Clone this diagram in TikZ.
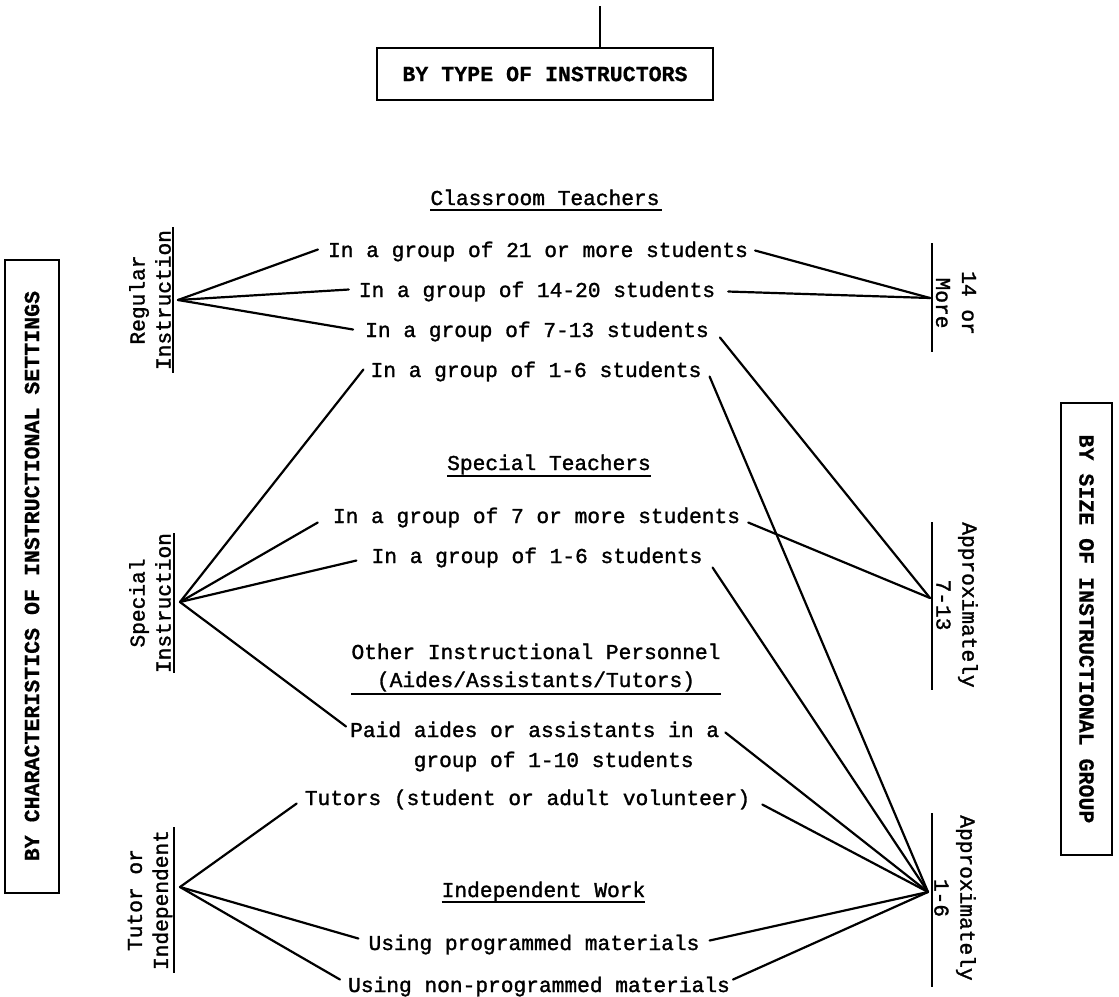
\documentclass[tikz,border=0pt]{standalone}
\usepackage{fontspec}
\newfontfamily\twfont{Liberation Mono}[FakeBold=1.4]
\newfontfamily\twbold{Liberation Mono Bold}[FakeBold=0.6]
\begin{document}
\begin{tikzpicture}[x=1pt,y=-1pt,
  every node/.style={font=\twfont\fontsize{21.2}{26}\selectfont, inner sep=0pt},
  lbl/.style={anchor=base},
  side/.style={align=center},
  boxlbl/.style={draw, line width=2pt, font=\twbold\fontsize{21.6}{26}\selectfont},
  conn/.style={line width=2.2pt, line cap=round},
  rule/.style={line width=2pt},
  uline/.style={line width=1.8pt}]
\useasboundingbox (0,0) rectangle (1119,996);

% frame titles
\node[boxlbl, minimum width=336pt, minimum height=52pt] (type) at (545,74) {BY TYPE OF INSTRUCTORS};
\coordinate (topend) at (600,6);
\draw[rule] (topend) -- (topend |- type.north);
\node[boxlbl, rotate=90, minimum width=633pt, minimum height=54pt] (settings) at (32,576) {BY CHARACTERISTICS OF INSTRUCTIONAL SETTINGS};
\node[boxlbl, rotate=-90, minimum width=452pt, minimum height=51pt] (size) at (1086.5,629) {BY SIZE OF INSTRUCTIONAL GROUP};

% instructor types and settings
\node[lbl] (ct) at (545,205) {Classroom Teachers};
\node[lbl] (r1) at (538,257) {In a group of 21 or more students};
\node[lbl] (r2) at (537,297) {In a group of 14-20 students};
\node[lbl] (r3) at (537,337) {In a group of 7-13 students};
\node[lbl] (r4) at (536,377) {In a group of 1-6 students};
\node[lbl] (st) at (549,470) {Special Teachers};
\node[lbl] (s1) at (536.5,523) {In a group of 7 or more students};
\node[lbl] (s2) at (537,563) {In a group of 1-6 students};
\node[lbl] (o1) at (536,659) {Other Instructional Personnel};
\node[lbl] (o2) at (536,687) {(Aides/Assistants/Tutors)};
\node[lbl, anchor=base west] (p1) at (350,737) {Paid aides or assistants in a};
\node[lbl, anchor=base west] (p2) at (413.5,767) {group of 1-10 students};
\node[lbl] (tu) at (527.5,805) {Tutors (student or adult volunteer)};
\node[lbl] (iw) at (543.5,897) {Independent Work};
\node[lbl] (pm) at (534,950) {Using programmed materials};
\node[lbl] (np) at (539,992) {Using non-programmed materials};

% heading underlines
\draw[uline] ([shift={(0,5)}]ct.base west) -- ([shift={(2,5)}]ct.base east);
\draw[uline] ([shift={(0,6)}]st.base west) -- ([shift={(0,6)}]st.base east);
\coordinate (ou) at ([shift={(0,7)}]o2.base);
\draw[uline] (ou -| o1.west) -- (ou -| o1.east);
\draw[uline] ([shift={(0,5)}]iw.base west) -- ([shift={(0,5)}]iw.base east);

% setting labels (left)
\node[side, rotate=90] (regl) at (150,300) {Regular\\Instruction};
\node[side, rotate=90] (spl) at (150,603) {Special\\Instruction};
\node[side, rotate=90] (tul) at (150,900) {Tutor or\\Independent};
\draw[rule] (173,227) -- (173,373);
\draw[rule] (174,533) -- (174,673);
\draw[rule] (174,827) -- (174,973);

% group size labels (right)
\node[side, rotate=-90] (g14l) at (956,303) {14 or\\More};
\node[side, rotate=-90] (g7l) at (957,605) {Approximately\\7-13};
\node[side, rotate=-90] (g1l) at (955,898) {Approximately\\1-6};
\draw[rule] (932,243) -- (932,352);
\draw[rule] (932,522) -- (932,690);
\draw[rule] (932,813) -- (932,987);

% meeting points
\coordinate (reg) at (178,300);
\coordinate (spec) at (180,602);
\coordinate (tut) at (180,887);
\coordinate (g14) at (930,298);
\coordinate (g7) at (930,598);
\coordinate (g1) at (928,892);

% regular instruction
\draw[conn] (reg) -- ([shift={(-10,-2)}]r1.west);
\draw[conn] (reg) -- ([shift={(-10,-2)}]r2.west);
\draw[conn] (reg) -- ([shift={(-12,-2)}]r3.west);
% special instruction
\draw[conn] (spec) -- ([shift={(-7,-2)}]r4.west);
\draw[conn] (spec) -- ([shift={(-15,5)}]s1.west);
\draw[conn] (spec) -- ([shift={(-15,3)}]s2.west);
\draw[conn] (spec) -- ([shift={(-4,-3)}]p1.west);
% tutor or independent
\draw[conn] (tut) -- ([shift={(-8,4)}]tu.west);
\draw[conn] (tut) -- ([shift={(-10,-6)}]pm.west);
\draw[conn] (tut) -- ([shift={(-8,-7)}]np.west);
% 14 or more
\draw[conn] ([shift={(7,-1)}]r1.east) -- (g14);
\draw[conn] ([shift={(13,0)}]r2.east) -- (g14);
% approximately 7-13
\draw[conn] ([shift={(11,6)}]r3.east) -- (g7);
\draw[conn] ([shift={(8,5)}]s1.east) -- (g7);
% approximately 1-6
\draw[conn] ([shift={(8,5)}]r4.east) -- (g1);
\draw[conn] ([shift={(10,10)}]s2.east) -- (g1);
\draw[conn] ([shift={(6,3)}]p1.east) -- (g1);
\draw[conn] ([shift={(12,5)}]tu.east) -- (g1);
\draw[conn] ([shift={(10,-4)}]pm.east) -- (g1);
\draw[conn] ([shift={(3,-7)}]np.east) -- (g1);
\end{tikzpicture}
\end{document}
